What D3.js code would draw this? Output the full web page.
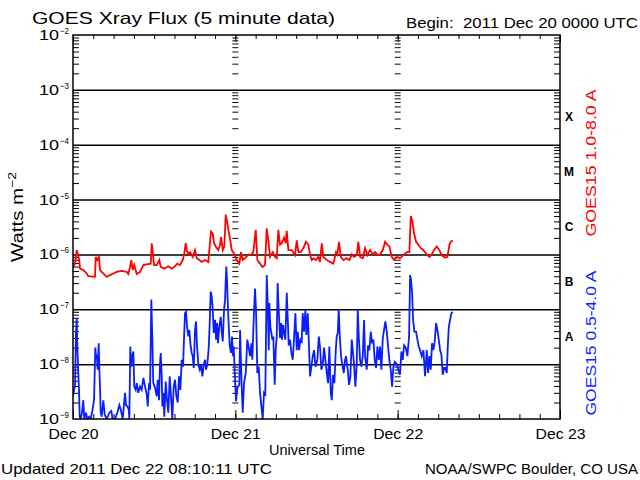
<!DOCTYPE html>
<html><head><meta charset="utf-8">
<script src="https://cdn.jsdelivr.net/npm/d3@7"></script>
<style>
html,body{margin:0;padding:0;background:#fff;}
svg{display:block;}
text{font-family:"Liberation Sans",Arial,sans-serif;white-space:pre;fill:#000;}
</style></head><body>
<svg id="chart" width="640" height="480"></svg>
<script>
// ---------------- data ----------------
const beginTime = "2011-12-20T00:00:00Z";
const endTime = "2011-12-23T00:00:00Z";
const decadeExponents = [-2,-3,-4,-5,-6,-7,-8,-9];
const flareClasses = ["X","M","C","B","A"];
const flareClassLower = [1e-4,1e-5,1e-6,1e-7,1e-8];
const longLabel = "GOES15 1.0-8.0 A";
const shortLabel = "GOES15 0.5-4.0 A";
// [hours since begin, flux W/m^2]
const longFluxReadings = [[0,5.9e-7],[0.30,6.8e-7],[0.55,1.2e-6],[0.74,9.7e-7],[0.93,7.9e-7],[1.04,5.5e-7],[1.52,5.2e-7],[2.03,4.5e-7],[2.26,4.0e-7],[3.25,3.9e-7],[3.36,9.0e-7],[3.59,7.9e-7],[3.84,8.9e-7],[3.99,5.2e-7],[4.24,4.8e-7],[4.73,4.2e-7],[4.98,3.9e-7],[5.47,4.2e-7],[5.96,4.5e-7],[6.46,4.8e-7],[7.20,5.0e-7],[7.94,4.8e-7],[8.18,4.4e-7],[8.43,5.9e-7],[8.62,7.9e-7],[8.83,5.2e-7],[9.06,6.4e-7],[9.42,4.4e-7],[9.91,4.8e-7],[10.40,6.4e-7],[10.90,6.6e-7],[11.49,6.8e-7],[11.64,1.6e-6],[11.79,1.1e-6],[11.98,6.4e-7],[12.38,6.4e-7],[12.76,7.9e-7],[12.97,5.9e-7],[13.46,5.5e-7],[14.09,6.1e-7],[14.60,5.5e-7],[15.08,6.1e-7],[15.42,6.8e-7],[15.82,6.4e-7],[16.22,7.9e-7],[16.41,9.7e-7],[16.67,1.6e-6],[16.81,1.2e-6],[17.05,1.0e-6],[17.30,1.1e-6],[17.70,9.0e-7],[18.04,1.2e-6],[18.29,8.5e-7],[18.68,7.9e-7],[19.03,7.3e-7],[19.52,7.9e-7],[20.01,7.3e-7],[20.26,1.7e-6],[20.41,2.6e-6],[20.66,2.4e-6],[20.85,1.6e-6],[21.10,1.4e-6],[21.49,1.2e-6],[21.74,1.5e-6],[21.89,2.1e-6],[22.14,1.2e-6],[22.37,1.4e-6],[22.58,5.3e-6],[22.73,4.3e-6],[22.97,2.8e-6],[23.22,1.9e-6],[23.47,1.2e-6],[23.70,1.1e-6],[24.21,7.9e-7],[24.59,6.8e-7],[24.84,1.1e-6],[25.09,7.9e-7],[25.43,8.5e-7],[25.92,1.0e-6],[26.28,9.7e-7],[26.66,1.1e-6],[27.02,2.8e-6],[27.25,7.9e-7],[27.65,6.8e-7],[27.99,5.9e-7],[28.39,6.4e-7],[28.64,3.0e-6],[28.88,1.8e-6],[29.13,9.0e-7],[29.53,1.1e-6],[29.87,9.0e-7],[30.12,8.5e-7],[30.36,2.8e-6],[30.61,1.5e-6],[30.86,1.6e-6],[31.20,2.0e-6],[31.45,1.6e-6],[31.60,2.7e-6],[31.84,1.2e-6],[32.34,1.2e-6],[32.83,9.7e-7],[33.08,1.8e-6],[33.32,1.1e-6],[33.67,1.1e-6],[34.06,1.3e-6],[34.45,1.7e-6],[34.80,1.5e-6],[35.05,9.7e-7],[35.30,7.9e-7],[35.53,8.5e-7],[35.93,7.9e-7],[36.27,9.0e-7],[36.52,7.3e-7],[36.78,1.6e-6],[37.01,9.0e-7],[37.52,7.9e-7],[38.00,7.3e-7],[38.49,6.8e-7],[38.89,1.1e-6],[39.08,1.0e-6],[39.33,1.7e-6],[39.59,9.0e-7],[39.97,7.9e-7],[40.47,8.5e-7],[40.86,7.9e-7],[41.21,1.0e-6],[41.55,9.0e-7],[41.95,9.7e-7],[42.19,1.7e-6],[42.44,9.0e-7],[42.84,8.5e-7],[43.18,1.3e-6],[43.52,9.7e-7],[43.92,1.2e-6],[44.32,1.0e-6],[44.66,1.1e-6],[45.06,9.7e-7],[45.40,1.0e-6],[45.80,1.2e-6],[46.14,1.7e-6],[46.48,1.5e-6],[46.77,1.4e-6],[47.13,9.0e-7],[47.47,7.9e-7],[47.87,9.0e-7],[48.35,8.5e-7],[48.84,9.7e-7],[49.35,1.1e-6],[49.73,1.1e-6],[49.94,5.0e-6],[50.17,4.0e-6],[50.43,2.4e-6],[50.72,1.7e-6],[51.06,1.5e-6],[51.42,1.3e-6],[51.80,1.2e-6],[52.30,1.0e-6],[52.69,9.0e-7],[53.04,1.0e-6],[53.38,1.2e-6],[53.78,1.4e-6],[54.17,1.2e-6],[54.52,9.7e-7],[55.01,8.7e-7],[55.35,9.0e-7],[55.65,1.5e-6],[55.85,1.7e-6],[56.15,1.8e-6]];
const shortFluxReadings = [[0,2.6e-9],[0.15,3.4e-9],[0.30,3.9e-9],[0.44,3.7e-8],[0.55,6.9e-8],[0.64,2.1e-8],[0.78,6.9e-9],[0.89,3.4e-9],[0.99,1.1e-9],[1.14,8e-10],[1.33,1.3e-9],[1.52,2.2e-9],[1.67,8e-10],[1.92,1.3e-9],[2.11,8e-10],[2.37,1.1e-9],[2.62,8e-10],[2.85,1.4e-9],[3.11,2.2e-9],[3.30,2.0e-8],[3.40,1.4e-8],[3.50,1.5e-8],[3.65,7.9e-9],[3.80,2.4e-8],[3.89,8.5e-9],[3.99,3.9e-9],[4.10,1.3e-9],[4.24,1.1e-9],[4.48,2.2e-9],[4.69,1.2e-9],[4.98,8e-10],[5.37,1.3e-9],[5.66,1.4e-9],[5.87,8e-10],[6.21,8e-10],[6.55,1.3e-9],[6.85,1.8e-9],[7.05,1.5e-9],[7.35,8e-10],[7.69,3.0e-9],[7.84,1.8e-9],[8.03,1.7e-9],[8.24,1.5e-9],[8.33,8e-10],[8.47,2.1e-8],[8.62,9.0e-9],[8.77,1.4e-8],[8.92,1.7e-8],[9.06,3.9e-9],[9.27,3.4e-9],[9.42,4.5e-9],[9.66,3.0e-9],[9.91,3.9e-9],[10.16,3.4e-9],[10.40,5.6e-9],[10.65,3.9e-9],[10.90,2.8e-9],[11.05,1.7e-9],[11.24,4.5e-9],[11.39,3.4e-9],[11.58,1.5e-7],[11.73,2.8e-8],[11.87,4.5e-9],[12.13,3.7e-9],[12.38,2.6e-9],[12.52,5.2e-9],[12.72,2.2e-9],[12.86,1.0e-8],[12.97,1.6e-8],[13.12,6.0e-9],[13.21,1.7e-9],[13.35,3.0e-9],[13.50,1.1e-9],[13.71,4.8e-9],[13.90,2.2e-9],[14.09,1.3e-9],[14.30,6.0e-9],[14.49,2.6e-9],[14.68,8e-10],[14.89,3.9e-9],[15.08,5.2e-9],[15.28,2.6e-9],[15.48,2.0e-9],[15.67,6.0e-9],[15.87,3.4e-9],[16.07,1.2e-8],[16.27,9.0e-9],[16.41,2.8e-8],[16.56,8.5e-8],[16.71,9.0e-8],[16.86,4.8e-8],[17.05,3.2e-8],[17.20,4.2e-8],[17.35,2.4e-8],[17.55,1.6e-8],[17.70,1.4e-8],[17.85,8.5e-9],[18.04,4.2e-8],[18.19,6.0e-8],[18.34,2.1e-8],[18.53,9.7e-9],[18.74,7.9e-9],[18.93,1.0e-8],[19.12,6.0e-9],[19.33,9.7e-9],[19.52,1.2e-8],[19.67,7.9e-9],[19.86,1.0e-8],[20.07,2.0e-8],[20.21,5.6e-8],[20.36,2.1e-7],[20.51,1.7e-7],[20.66,9.7e-8],[20.81,3.7e-8],[21.00,6.4e-8],[21.15,2.8e-8],[21.30,5.6e-8],[21.44,2.4e-8],[21.63,4.8e-8],[21.84,7.3e-8],[21.99,3.9e-8],[22.14,2.6e-8],[22.33,9.7e-8],[22.48,1.5e-7],[22.58,3.4e-7],[22.67,6.0e-7],[22.77,3.4e-7],[22.88,1.3e-7],[23.03,4.8e-8],[23.17,2.2e-8],[23.36,1.6e-8],[23.51,3.2e-8],[23.66,1.4e-8],[23.76,2.1e-8],[23.96,5.2e-9],[24.10,2.1e-9],[24.30,3.7e-9],[24.59,4.2e-9],[24.70,4.2e-8],[24.94,3.9e-9],[25.09,1.3e-9],[25.28,4.5e-9],[25.54,6.9e-9],[25.77,2.8e-8],[25.98,2.0e-8],[26.17,1.4e-8],[26.37,2.4e-8],[26.51,1.2e-8],[26.66,4.2e-8],[26.77,9.7e-8],[26.91,2.4e-7],[27.06,9.7e-8],[27.25,6.9e-9],[27.46,9.0e-9],[27.65,3.0e-9],[27.90,1.5e-9],[28.05,8e-10],[28.24,3.0e-9],[28.43,2.8e-9],[28.64,4.2e-7],[28.79,1.3e-7],[28.94,1.8e-8],[29.03,1.3e-7],[29.18,4.8e-8],[29.33,3.7e-8],[29.47,2.8e-8],[29.62,3.2e-8],[29.82,4.2e-9],[29.97,1.8e-8],[30.12,3.2e-8],[30.26,3.0e-7],[30.41,9.7e-8],[30.61,3.0e-8],[30.76,5.6e-8],[30.91,2.8e-8],[31.05,5.2e-8],[31.20,3.9e-8],[31.39,2.8e-8],[31.60,2.0e-7],[31.75,6.9e-8],[31.89,2.2e-8],[32.09,2.8e-8],[32.28,1.6e-8],[32.49,1.2e-8],[32.68,3.0e-8],[32.88,8.5e-8],[33.08,1.8e-8],[33.23,3.9e-8],[33.42,1.8e-8],[33.62,2.8e-8],[33.81,2.6e-8],[33.96,8.5e-8],[34.16,3.9e-8],[34.35,9.7e-8],[34.50,3.4e-8],[34.71,8.5e-8],[34.85,2.8e-8],[35.05,6.0e-9],[35.24,9.0e-9],[35.45,1.4e-8],[35.64,1.8e-8],[35.84,9.0e-9],[36.13,1.2e-8],[36.34,3.2e-8],[36.53,2.0e-8],[36.72,7.9e-9],[36.93,1.0e-8],[37.12,2.0e-8],[37.31,1.2e-8],[37.52,6.9e-9],[37.71,4.5e-9],[37.90,2.1e-8],[38.11,3.0e-9],[38.26,2.2e-9],[38.45,6.4e-9],[38.64,4.5e-9],[38.85,1.8e-8],[38.99,3.2e-8],[39.14,3.7e-8],[39.29,1.0e-7],[39.44,3.2e-8],[39.63,1.4e-8],[39.82,9.7e-9],[40.03,6.9e-9],[40.22,1.2e-8],[40.37,1.4e-8],[40.62,7.9e-9],[40.81,4.2e-9],[41.01,6.0e-9],[41.21,2.8e-8],[41.36,1.8e-8],[41.55,1.0e-8],[41.75,3.9e-9],[41.95,1.0e-8],[42.10,1.0e-7],[42.25,3.2e-8],[42.44,1.2e-8],[42.63,9.0e-9],[42.84,1.4e-8],[43.03,6.4e-8],[43.18,1.4e-8],[43.43,7.9e-9],[43.62,2.2e-8],[43.82,1.8e-8],[44.02,3.9e-8],[44.21,2.4e-8],[44.41,2.8e-8],[44.61,1.2e-8],[44.81,8.5e-9],[45.00,2.1e-8],[45.21,1.2e-8],[45.40,2.1e-8],[45.59,7.9e-9],[45.80,3.0e-8],[45.99,4.2e-8],[46.18,6.0e-8],[46.39,3.9e-8],[46.58,2.1e-8],[46.77,1.2e-8],[46.98,7.9e-9],[47.17,3.9e-9],[47.37,9.0e-9],[47.57,1.1e-8],[47.87,1.0e-8],[48.10,7.9e-9],[48.35,6.4e-9],[48.55,1.7e-8],[48.75,1.2e-8],[48.95,2.2e-8],[49.20,2.0e-8],[49.43,1.4e-8],[49.69,3.2e-8],[49.84,4.2e-7],[49.98,3.4e-7],[50.13,2.0e-7],[50.28,6.4e-8],[50.47,3.9e-8],[50.72,3.9e-8],[50.92,2.8e-8],[51.12,2.1e-8],[51.31,1.8e-8],[51.56,1.4e-8],[51.80,1.8e-8],[52.05,6.0e-9],[52.30,1.8e-8],[52.50,6.9e-9],[52.69,1.4e-8],[52.89,7.9e-9],[53.08,2.4e-8],[53.28,1.8e-8],[53.48,2.6e-8],[53.68,5.6e-8],[53.87,4.2e-8],[54.08,2.8e-8],[54.27,1.8e-8],[54.46,1.5e-8],[54.67,6.4e-9],[54.86,8.5e-9],[55.05,8.5e-9],[55.26,6.9e-9],[55.41,2.1e-8],[55.56,4.8e-8],[55.75,6.4e-8],[55.94,8.5e-8],[56.15,9.0e-8]];

// ---------------- chart ----------------
const svg = d3.select("#chart");
const L = 73, R = 560, T = 35, B = 419;
const t0 = new Date(beginTime), t1 = new Date(endTime);
const x = d3.scaleUtc().domain([t0, t1]).range([L, R]);
const y = d3.scaleLog().domain([1e-9, 1e-2]).range([B, T]).clamp(true);
const toDate = h => new Date(t0.getTime() + h * 3600000);

const minorVals = [];
for (let e = -9; e < -2; e++) for (let m = 2; m <= 9; m++) minorVals.push(m * Math.pow(10, e));
const innerDecades = decadeExponents.filter(e => e > -9 && e < -2).map(e => Math.pow(10, e));

function clean(g){ g.select(".domain").remove(); g.selectAll(".tick line").attr("stroke","#000"); }

// gridlines
svg.append("g").attr("transform",`translate(${L},0)`)
  .call(d3.axisLeft(y).tickValues(innerDecades).tickSize(-(R-L)).tickFormat(""))
  .call(clean).selectAll(".tick line").attr("stroke-width",1.5);

// left / right minor ticks
svg.append("g").attr("transform",`translate(${L},0)`)
  .call(d3.axisLeft(y).tickValues(minorVals).tickSize(-6).tickFormat("")).call(clean);
svg.append("g").attr("transform",`translate(${R},0)`)
  .call(d3.axisRight(y).tickValues(minorVals).tickSize(-6).tickFormat("")).call(clean);

// day-boundary tick columns
const innerDays = x.ticks(d3.utcDay.every(1)).filter(d => +d > +t0 && +d < +t1);
innerDays.forEach(d => {
  svg.append("g").attr("transform",`translate(${x(d)},0)`)
    .call(d3.axisRight(y).tickValues(minorVals).tickSize(3).tickFormat("")).call(clean);
  svg.append("g").attr("transform",`translate(${x(d)},0)`)
    .call(d3.axisLeft(y).tickValues(minorVals).tickSize(3).tickFormat("")).call(clean);
});

// time ticks: top and bottom
svg.append("g").attr("transform",`translate(0,${T})`)
  .call(d3.axisTop(x).ticks(d3.utcHour.every(3)).tickSize(-4).tickFormat("")).call(clean);
svg.append("g").attr("transform",`translate(0,${T})`)
  .call(d3.axisTop(x).ticks(d3.utcDay.every(1)).tickSize(-7).tickFormat("")).call(clean);
svg.append("g").attr("transform",`translate(0,${B})`)
  .call(d3.axisBottom(x).ticks(d3.utcHour.every(3)).tickSize(-5).tickFormat("")).call(clean);
const bottomDays = svg.append("g").attr("transform",`translate(0,${B})`)
  .call(d3.axisBottom(x).ticks(d3.utcDay.every(1)).tickSize(-9).tickPadding(10)
    .tickFormat(d3.utcFormat("%b %d")))
  .call(clean);
bottomDays.selectAll(".tick text").attr("font-size",14).attr("font-family","Liberation Sans, Arial, sans-serif")
  .attr("dy","0.72em").attr("textLength",50).attr("lengthAdjust","spacingAndGlyphs");

// series lines
svg.append("clipPath").attr("id","plotclip").append("rect")
  .attr("x",L).attr("y",T).attr("width",R-L).attr("height",B-T);
const line = d3.line().x(d => x(toDate(d[0]))).y(d => y(d[1]));
svg.append("path").datum(shortFluxReadings).attr("clip-path","url(#plotclip)")
  .attr("d",line).attr("fill","none").attr("stroke","#0a1eff").attr("stroke-width",1.8).attr("stroke-linejoin","miter");
svg.append("path").datum(longFluxReadings).attr("clip-path","url(#plotclip)")
  .attr("d",line).attr("fill","none").attr("stroke","#ff0000").attr("stroke-width",1.8).attr("stroke-linejoin","miter");

// frame
svg.append("rect").attr("x",L).attr("y",T).attr("width",R-L).attr("height",B-T)
  .attr("fill","none").attr("stroke","#000").attr("stroke-width",1.5);

// y tick labels
decadeExponents.forEach(e => {
  const yy = y(Math.pow(10,e));
  svg.append("text").attr("x",59).attr("y",yy+5).attr("text-anchor","end")
    .attr("font-size",14).attr("textLength",20).attr("lengthAdjust","spacingAndGlyphs").text("10");
  svg.append("text").attr("x",60).attr("y",yy-1).attr("font-size",9)
    .attr("textLength",9).attr("lengthAdjust","spacingAndGlyphs").text("\u2212"+(-e));
});

// flare classes
flareClasses.forEach((c,i) => {
  const v = Math.sqrt(flareClassLower[i] * flareClassLower[i]*10);
  svg.append("text").attr("x",569).attr("y",y(v)).attr("dy","0.35em").attr("text-anchor","middle")
    .attr("font-family","Liberation Serif, serif").attr("font-weight","bold").attr("font-size",12).text(c);
});

// rotated series labels
svg.append("text").attr("transform","translate(596,163) rotate(-90)").attr("text-anchor","middle")
  .attr("font-size",15).attr("textLength",147).attr("lengthAdjust","spacingAndGlyphs")
  .style("fill","#ff0000").text(longLabel);
svg.append("text").attr("transform","translate(596,343) rotate(-90)").attr("text-anchor","middle")
  .attr("font-size",15).attr("textLength",145).attr("lengthAdjust","spacingAndGlyphs")
  .style("fill","#0a1eff").text(shortLabel);

// y title
const yt = svg.append("text").attr("transform","translate(23,217) rotate(-90)").attr("text-anchor","middle")
  .attr("font-size",16).attr("textLength",90).attr("lengthAdjust","spacingAndGlyphs");
yt.append("tspan").text("Watts m");
yt.append("tspan").attr("font-size",11).attr("dy",-7).text("\u22122");

// titles
svg.append("text").attr("x",32).attr("y",24).attr("font-size",16.5)
  .attr("textLength",303).attr("lengthAdjust","spacingAndGlyphs").text("GOES Xray Flux (5 minute data)");
svg.append("text").attr("x",406).attr("y",28).attr("font-size",14)
  .attr("textLength",232).attr("lengthAdjust","spacingAndGlyphs").text("Begin:  2011 Dec 20 0000 UTC");
svg.append("text").attr("x",317).attr("y",455).attr("text-anchor","middle").attr("font-size",14)
  .attr("textLength",96).attr("lengthAdjust","spacingAndGlyphs").text("Universal Time");
svg.append("text").attr("x",1).attr("y",474).attr("font-size",14.5)
  .attr("textLength",271).attr("lengthAdjust","spacingAndGlyphs").text("Updated 2011 Dec 22 08:10:11 UTC");
svg.append("text").attr("x",638).attr("y",474).attr("text-anchor","end").attr("font-size",14.5)
  .attr("textLength",213).attr("lengthAdjust","spacingAndGlyphs").text("NOAA/SWPC Boulder, CO USA");
</script>
</body></html>
